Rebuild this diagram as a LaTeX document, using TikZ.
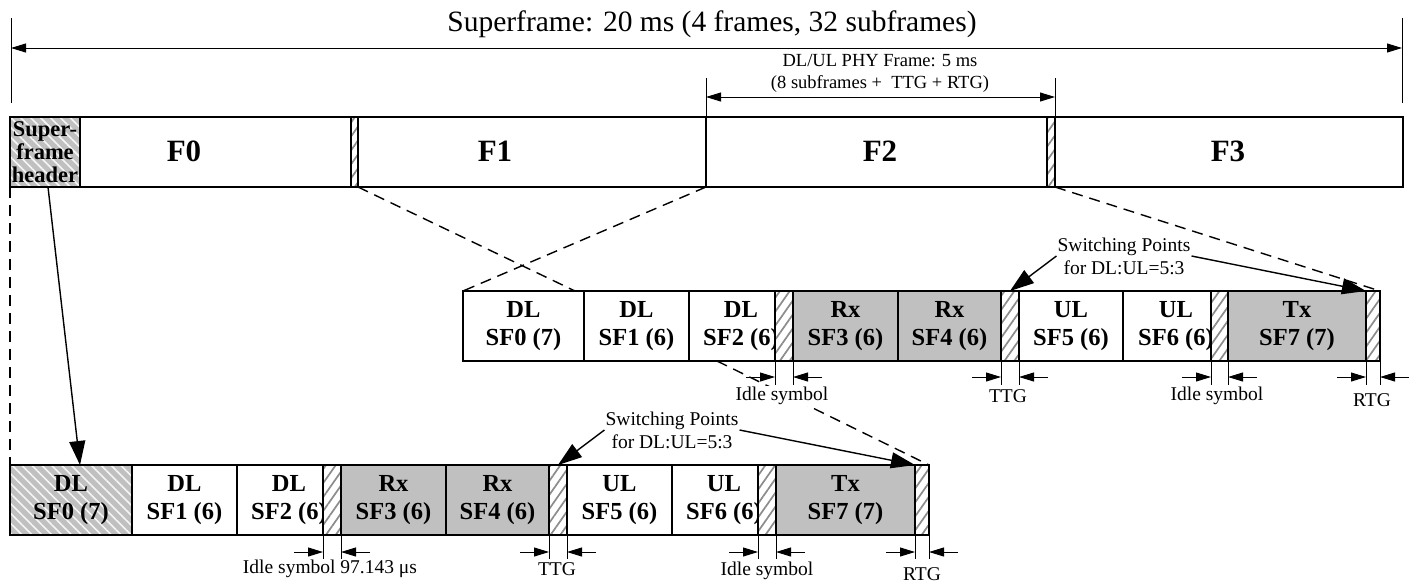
\documentclass[tikz,border=0pt]{standalone}
\usepackage{fontspec}
\setmainfont{Liberation Serif}
\usetikzlibrary{arrows.meta,patterns.meta,calc}
\definecolor{sfgray}{RGB}{192,192,192}
\definecolor{hatchgray}{RGB}{140,140,140}
\newcommand\fsz[2]{\fontsize{#1}{#2}\selectfont}
\newcommand\bx[6]{\node[#6,minimum width={(#3-#2)*1pt},minimum height={#5*1pt}] (#1) at (#2,#4) {};}
\begin{document}
\begin{tikzpicture}[x=1pt,y=-1pt,
  base/.style={inner sep=0pt,outer sep=0pt,anchor=north west},
  topbox/.style={base,draw,line width=2.6pt,fill=white},
  sub/.style={base,draw,line width=1.5pt,fill=white},
  graybox/.style={sub,fill=sfgray},
  stripebox/.style={base,draw,line width=1.5pt,preaction={fill=sfgray},pattern={Lines[angle=-45,distance=7pt,line width=1.6pt]},pattern color=white!92!gray},
  hatchbox/.style={base,draw,line width=1.5pt,preaction={fill=white},pattern={Lines[angle=55,distance=8pt,line width=1.7pt]},pattern color=hatchgray},
  lbl/.style={font=\bfseries\fsz{24.5}{28.5}, align=center, inner sep=0pt},
  flbl/.style={font=\bfseries\fsz{31}{31}, inner sep=0pt},
  note/.style={font=\fsz{19.5}{23}, align=center, inner sep=1pt},
  ext/.style={line width=1pt},
  dimarr/.style={line width=1pt,-{Triangle[length=15pt,width=9pt]}},
  bigarr/.style={line width=1.4pt,-{Triangle[length=24pt,width=16pt]}},
  dsh/.style={line width=1.4pt,dash pattern=on 11pt off 7pt}
]
\useasboundingbox (0,0) rectangle (1424,582);

% ---------- title ----------
\node[font=\fsz{29.5}{30}, inner sep=0pt] (title) at (712,24) {Superframe: 20 ms (4 frames, 32 subframes)};
\coordinate (sfLt) at (11,18); \coordinate (sfLb) at (11,103);
\coordinate (sfRt) at (1402,18); \coordinate (sfRb) at (1402,103);
\coordinate (sfL) at (11,48); \coordinate (sfR) at (1402,48);
\draw[ext] (sfLt) -- (sfLb);
\draw[ext] (sfRt) -- (sfRb);
\draw[line width=1pt,{Triangle[length=15pt,width=9pt]}-{Triangle[length=15pt,width=9pt]}] (sfL) -- (sfR);

% ---------- top bar ----------
\bx{F0}{80}{351}{117}{70}{topbox}
\bx{F1}{358}{706}{117}{70}{topbox}
\bx{F2}{706}{1047}{117}{70}{topbox}
\bx{F3}{1055}{1403}{117}{70}{topbox}
\bx{hdr}{10}{80}{117}{70}{stripebox,line width=2.6pt}
\bx{th1}{351}{358}{117}{70}{hatchbox}
\bx{th2}{1047}{1055}{117}{70}{hatchbox}
\node[font=\bfseries\fsz{22.5}{23}, align=center, inner sep=0pt] (hdrt) at (hdr.center) {Super-\\frame\\header};
\node[flbl] (F0t) at (184,151) {F0};
\node[flbl] (F1t) at (495,151) {F1};
\node[flbl] (F2t) at (880,151) {F2};
\node[flbl] (F3t) at (1228,151) {F3};

% PHY frame dimension
\node[font=\fsz{18.5}{22}, align=center, inner sep=0pt] (phy) at (880,73) {DL/UL PHY Frame: 5 ms\\(8 subframes +\ \ TTG + RTG)};
\draw[ext] (F2.north west) -- ++(0,-39);
\draw[ext] (th2.north east) -- ++(0,-39);
\draw[line width=1pt,{Triangle[length=15pt,width=9pt]}-{Triangle[length=15pt,width=9pt]}] ($(F2.north west)+(0,-20)$) -- ($(th2.north east)+(0,-20)$);

% ---------- middle row ----------
\bx{m0}{463}{584}{291}{70}{sub}
\bx{m1}{584}{689}{291}{70}{sub}
\bx{m2}{689}{775}{291}{70}{sub}
\bx{m3}{793}{898}{291}{70}{graybox}
\bx{m4}{898}{1001}{291}{70}{graybox}
\bx{m5}{1019}{1123}{291}{70}{sub}
\bx{m6}{1123}{1211}{291}{70}{sub}
\bx{m7}{1228}{1366}{291}{70}{graybox}
\node[lbl] (m0t) at (m0.center) {DL\\SF0 (7)};
\node[lbl] (m1t) at (m1.center) {DL\\SF1 (6)};
\node[lbl] (m2t) at ($(m2.center)+(9,0)$) {DL\\SF2 (6)};
\node[lbl] (m3t) at (m3.center) {Rx\\SF3 (6)};
\node[lbl] (m4t) at (m4.center) {Rx\\SF4 (6)};
\node[lbl] (m5t) at (m5.center) {UL\\SF5 (6)};
\node[lbl] (m6t) at ($(m6.center)+(9,0)$) {UL\\SF6 (6)};
\node[lbl] (m7t) at (m7.center) {Tx\\SF7 (7)};
\bx{mh1}{775}{793}{291}{70}{hatchbox}
\bx{mh2}{1001}{1019}{291}{70}{hatchbox}
\bx{mh3}{1211}{1228}{291}{70}{hatchbox}
\bx{mh4}{1366}{1380}{291}{70}{hatchbox}

% ---------- bottom row ----------
\bx{b0}{10}{132}{465}{70}{stripebox}
\bx{b1}{132}{237}{465}{70}{sub}
\bx{b2}{237}{323}{465}{70}{sub}
\bx{b3}{341}{446}{465}{70}{graybox}
\bx{b4}{446}{549}{465}{70}{graybox}
\bx{b5}{567}{672}{465}{70}{sub}
\bx{b6}{672}{758}{465}{70}{sub}
\bx{b7}{776}{915}{465}{70}{graybox}
\node[lbl] (b0t) at (b0.center) {DL\\SF0 (7)};
\node[lbl] (b1t) at (b1.center) {DL\\SF1 (6)};
\node[lbl] (b2t) at ($(b2.center)+(9,0)$) {DL\\SF2 (6)};
\node[lbl] (b3t) at (b3.center) {Rx\\SF3 (6)};
\node[lbl] (b4t) at (b4.center) {Rx\\SF4 (6)};
\node[lbl] (b5t) at (b5.center) {UL\\SF5 (6)};
\node[lbl] (b6t) at ($(b6.center)+(9,0)$) {UL\\SF6 (6)};
\node[lbl] (b7t) at (b7.center) {Tx\\SF7 (7)};
\bx{bh1}{323}{341}{465}{70}{hatchbox}
\bx{bh2}{549}{567}{465}{70}{hatchbox}
\bx{bh3}{758}{776}{465}{70}{hatchbox}
\bx{bh4}{915}{929}{465}{70}{hatchbox}

% ---------- dashed zoom lines ----------
\coordinate (m0x) at (575,291);
\coordinate (m2d) at (717,361);
\draw[dsh] (hdr.south west) -- (b0.north west);
\draw[dsh] (F1.south west) -- (m0x);
\draw[dsh] (F2.south west) -- (m0.north west);
\draw[dsh] (th2.south east) -- (mh4.north east);
\draw[dsh] (m2d) -- (bh4.north east);

% header arrow
\coordinate (hdrA) at (48,187);
\coordinate (b0A) at (80,465);
\draw[bigarr] (hdrA) -- (b0A);

% ---------- dimension marks ----------
\foreach \g in {mh1,mh2,mh3,mh4}{
  \draw[ext] (\g.south west) -- ++(0,24);
  \draw[ext] (\g.south east) -- ++(0,24);
  \draw[dimarr] ($(\g.south west)+(-29,16)$) -- ($(\g.south west)+(0,16)$);
  \draw[dimarr] ($(\g.south east)+(29,16)$) -- ($(\g.south east)+(0,16)$);
}
\foreach \g in {bh1,bh2,bh3,bh4}{
  \draw[ext] (\g.south west) -- ++(0,24);
  \draw[ext] (\g.south east) -- ++(0,24);
  \draw[dimarr] ($(\g.south west)+(-29,17)$) -- ($(\g.south west)+(0,17)$);
  \draw[dimarr] ($(\g.south east)+(29,17)$) -- ($(\g.south east)+(0,17)$);
}
\node[note,fill=white] (mi1) at (782,396) {Idle symbol};
\node[note] (mttg) at (1008,396) {TTG};
\node[note] (mi2) at (1217,396) {Idle symbol};
\node[note] (mrtg) at (1372,400) {RTG};
\node[note] (bi1) at (330,569) {Idle symbol 97.143 μs};
\node[note] (bttg) at (557,569) {TTG};
\node[note] (bi2) at (767,571) {Idle symbol};
\node[note] (brtg) at (922,574) {RTG};

% ---------- switching points ----------
\node[note] (swm) at (1124,256) {Switching Points\\for DL:UL=5:3};
\draw[bigarr] (swm.west) -- (mh2.north);
\draw[bigarr] (swm.east) -- (mh4.north west);
\node[note] (swb) at (672,430) {Switching Points\\for DL:UL=5:3};
\draw[bigarr] (swb.west) -- (bh2.north);
\draw[bigarr] (swb.east) -- (bh4.north west);
\end{tikzpicture}
\end{document}
